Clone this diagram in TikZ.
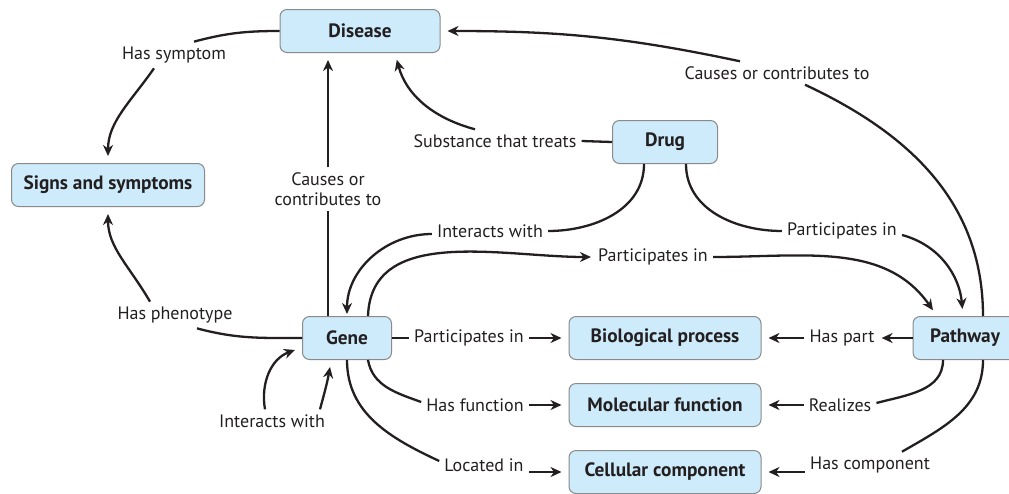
\documentclass[tikz,border=0pt]{standalone}
\usepackage{fontspec}
\setmainfont{PT Sans}
\usetikzlibrary{arrows.meta,positioning}
\definecolor{boxblue}{HTML}{CDEBFA}
\definecolor{boxline}{HTML}{8A8A8A}
\definecolor{ink}{HTML}{231F20}
\tikzset{
  concept/.style={draw=boxline, fill=boxblue, rounded corners=7pt, line width=1pt,
    minimum height=43pt, font=\fontsize{19.3}{21}\selectfont\bfseries, text=ink},
  rel/.style={font=\fontsize{18}{20}\selectfont, text=ink, inner sep=5pt},
  link/.style={line width=2.3pt, draw=ink},
  tip/.style={link, -{Stealth[length=11pt,width=10pt,inset=3.5pt]}, shorten >=7pt},
}

\begin{document}
\begin{tikzpicture}[x=1pt, y=1pt]
\useasboundingbox (0,0) rectangle (1009,-493);
% Concept boxes
\node[concept, minimum width=160pt] (disease) at (360,-31) {Disease};
\node[concept, minimum width=193pt] (signs) at (108,-185) {Signs and symptoms};
\node[concept, minimum width=105pt] (drug) at (665,-142) {Drug};
\node[concept, minimum width=89pt] (gene) at (347,-338) {Gene};
\node[concept, minimum width=192pt] (bio) at (665,-338) {Biological process};
\node[concept, minimum width=192pt] (mol) at (665,-405) {Molecular function};
\node[concept, minimum width=192pt] (cell) at (665,-472) {Cellular component};
\node[concept, minimum width=104pt] (pathway) at (965,-338) {Pathway};
% Relation labels
\node[rel] (hassym) at (174,-55) {Has symptom};
\node[rel] (hasphen) at (175,-315) {Has phenotype};
\node[rel, align=center] (causes) at (328,-189) {Causes or\\contributes to};
\node[rel] (treats) at (495,-141) {Substance that treats};
\node[rel] (pcauses) at (777,-73) {Causes or contributes to};
\node[rel] (dinter) at (490,-231) {Interacts with};
\node[rel] (dpart) at (842,-231) {Participates in};
\node[rel] (gpart) at (653,-257) {Participates in};
\node[rel] (bpart) at (469,-338) {Participates in};
\node[rel] (hasfun) at (475,-405) {Has function};
\node[rel] (locin) at (484,-465) {Located in};
\node[rel] (ginter) at (272,-421) {Interacts with};
\node[rel] (haspart) at (842,-338) {Has part};
\node[rel] (realizes) at (840,-405) {Realizes};
\node[rel] (hascomp) at (870,-465) {Has component};
% Disease links
\draw[link] (disease.west) to[out=180,in=15] ([xshift=20pt]hassym.north);
\draw[tip] ([xshift=-20pt]hassym.south) to[out=235,in=90] (signs.north);
\draw[link] (gene.west) to[out=180,in=-15] ([xshift=22pt]hasphen.south);
\draw[tip] ([xshift=-25pt]hasphen.north) to[out=120,in=-90] (signs.south);
\draw[link] (gene.north -| causes.south) -- (causes.south);
\draw[tip] (causes.north) -- (causes.north |- disease.south);
\draw[link] (drug.west) -- (treats.east);
\draw[tip] ([xshift=-20pt]treats.north) to[out=165,in=-75] ([xshift=35pt]disease.south);
\draw[link] ([xshift=18pt]pathway.north) to[out=90,in=-25] ([xshift=28pt]pcauses.south);
\draw[tip] ([xshift=-37pt]pcauses.north) to[out=168,in=0] (disease.east);
% Drug links
\draw[link] ([xshift=-21pt]drug.south) to[out=-90,in=0] (dinter.east);
\draw[tip, shorten >=2pt] ([yshift=-3pt]dinter.west) to[out=180,in=90] (gene.north);
\draw[link] ([xshift=21pt]drug.south) to[out=-90,in=180] (dpart.west);
\draw[tip] ([yshift=-4pt]dpart.east) to[out=-15,in=95] ([xshift=-2pt]pathway.north);
% Gene links
\draw[tip, shorten >=2pt] ([xshift=21pt]gene.north) to[out=88,in=180] (gpart.west);
\draw[tip] (gpart.east) to[out=0,in=125] ([xshift=-28pt]pathway.north);
\draw[link] (gene.east) -- (bpart.west);
\draw[tip] (bpart.east) -- (bio.west);
\draw[link] ([xshift=21pt]gene.south) to[out=-80,in=160] ([yshift=3pt]hasfun.west);
\draw[tip] (hasfun.east) -- (mol.west);
\draw[link] (gene.south) to[out=-90,in=155] ([yshift=4pt]locin.west);
\draw[tip] (locin.east |- cell) -- (cell.west);
\draw[tip, shorten >=0pt] ([xshift=-7pt]ginter.north) to[out=100,in=200] ([shift={(-7pt,10pt)}]gene.south west);
\draw[tip, shorten >=0pt] ([xshift=48pt]ginter.north) to[out=75,in=-100] ([shift={(-17pt,-7pt)}]gene.south);
% Pathway links
\draw[tip, shorten >=2pt] (pathway.west) -- (haspart.east);
\draw[tip] (haspart.west) -- (bio.east);
\draw[link] ([xshift=-22pt]pathway.south) to[out=-90,in=15] ([yshift=2pt]realizes.east);
\draw[tip] (realizes.west) -- (mol.east);
\draw[link] ([xshift=18pt]pathway.south) to[out=-90,in=30] ([xshift=32pt]hascomp.north);
\draw[tip] (hascomp.west |- cell) -- (cell.east);
\end{tikzpicture}
\end{document}
